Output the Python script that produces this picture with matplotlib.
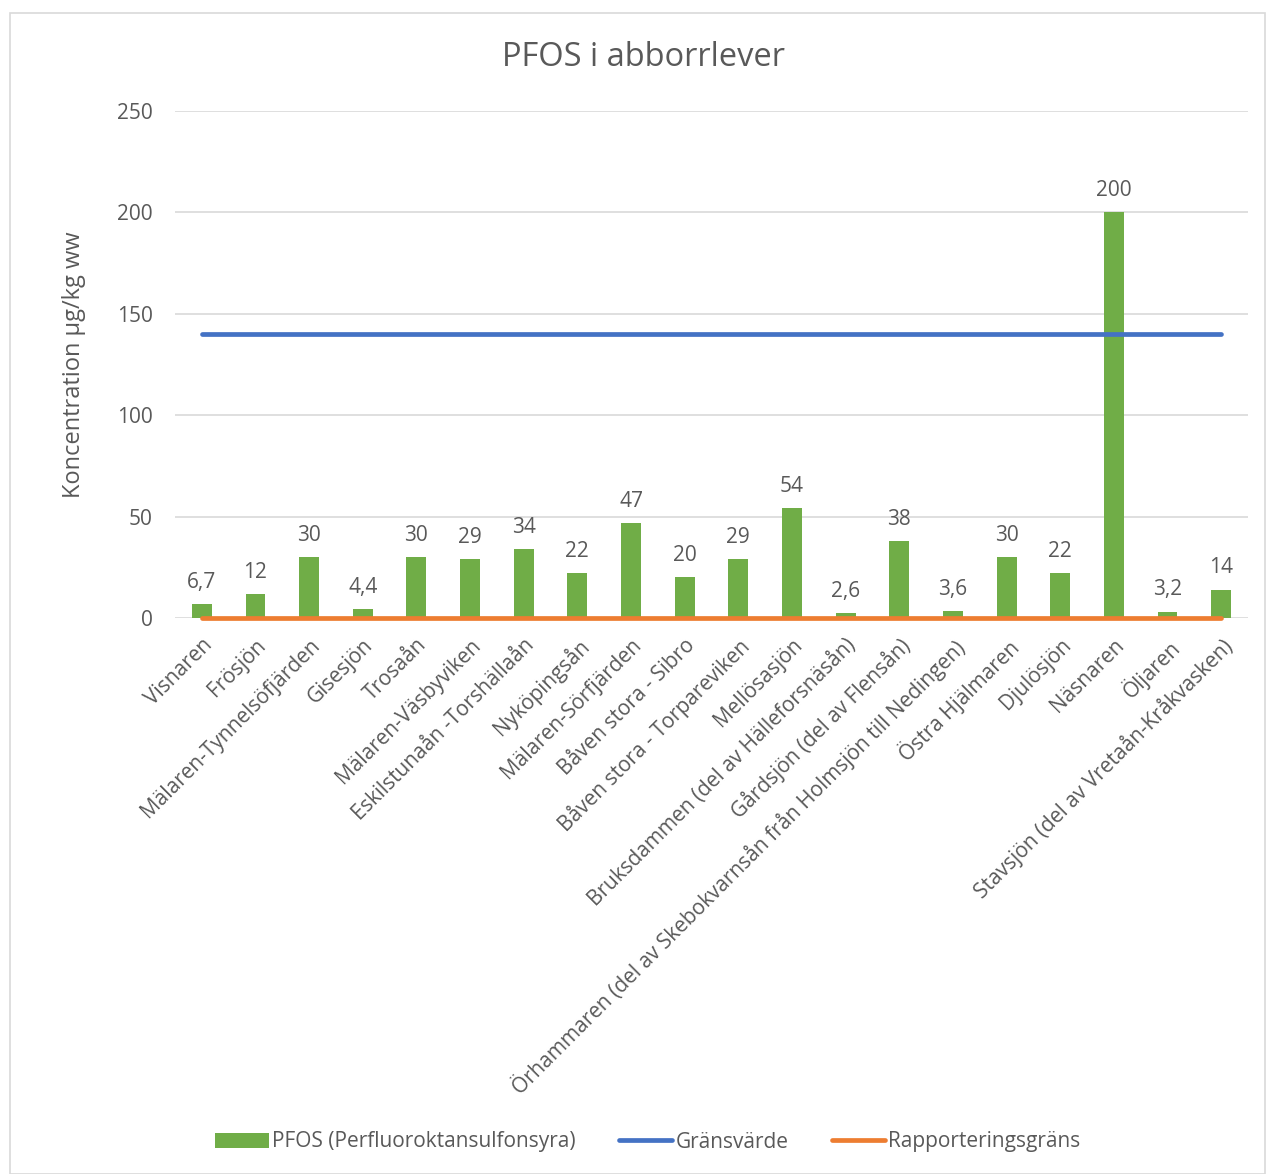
import matplotlib
matplotlib.use("Agg")
import matplotlib.pyplot as plt
from matplotlib.patches import Rectangle
from matplotlib.lines import Line2D
from matplotlib.patches import Patch

categories = ["Visnaren", "Frösjön", "Mälaren-Tynnelsöfjärden", "Gisesjön", "Trosaån",
              "Mälaren-Väsbyviken", "Eskilstunaån -Torshällaån", "Nyköpingsån",
              "Mälaren-Sörfjärden", "Båven stora - Sibro", "Båven stora - Torpareviken",
              "Mellösasjön", "Bruksdammen (del av Hälleforsnäsån)", "Gårdsjön (del av Flensån)",
              "Örhammaren (del av Skebokvarnsån från Holmsjön till Nedingen)", "Östra Hjälmaren",
              "Djulösjön", "Näsnaren", "Öljaren", "Stavsjön (del av Vretaån-Kråkvasken)"]
pfos = [6.7, 12, 30, 4.4, 30, 29, 34, 22, 47, 20, 29, 54, 2.6, 38, 3.6, 30, 22, 200, 3.2, 14]
gransvarde = [140] * len(categories)
rapporteringsgrans = [0] * len(categories)
yticks = [0, 50, 100, 150, 200, 250]

plt.rcParams['font.family'] = ['Open Sans', 'DejaVu Sans']
GREEN = "#70AD47"
BLUE = "#4472C4"
ORANGE = "#ED7D31"
TXT = "#595959"

fig = plt.figure(figsize=(12.66, 11.74), dpi=100)
fig.patches.append(Rectangle((10/1266, 0), 1 - 10/1266 - 0.001, 1 - 12/1174 - 0.001,
                             transform=fig.transFigure, fill=False,
                             edgecolor="#D9D9D9", linewidth=1.2))
ax = fig.add_axes([175/1266, 1 - 618/1174, (1248-175)/1266, (618-111)/1174])

x = list(range(len(categories)))
ax.bar(x, pfos, width=0.37, color=GREEN, zorder=2)
ax.plot(x, gransvarde, color=BLUE, linewidth=3.4, solid_capstyle='round', zorder=3, clip_on=False)
ax.plot(x, rapporteringsgrans, color=ORANGE, linewidth=3.4, solid_capstyle='round', zorder=3, clip_on=False)

for xi, v in zip(x, pfos):
    s = (f"{v:g}").replace(".", ",")
    ax.annotate(s, (xi, v), xytext=(0, 8), textcoords="offset points",
                ha="center", va="bottom", fontsize=15, color=TXT)

ax.set_xlim(-0.5, len(categories) - 0.5)
ax.set_ylim(0, 250)
ax.set_yticks(yticks)
ax.set_yticklabels([str(t) for t in yticks], fontsize=15, color=TXT)
ax.yaxis.grid(True, color="#D9D9D9", linewidth=1.2, zorder=0)
ax.set_axisbelow(True)
for sp in ax.spines.values():
    sp.set_visible(False)
ax.tick_params(axis='both', length=0)
ax.tick_params(axis='y', pad=16)
ax.set_xticks(x)
ax.set_xticklabels(categories, rotation=45, ha="right", rotation_mode="anchor",
                   fontsize=15, color=TXT)
ax.tick_params(axis='x', pad=12)

ax.set_ylabel("Koncentration µg/kg ww", fontsize=17, color=TXT, labelpad=22)
fig.text(643/1266, 1 - 58/1174, "PFOS i abborrlever", ha="center", va="center",
         fontsize=23.5, color=TXT)

handles = [Patch(facecolor=GREEN, edgecolor='none'),
           Line2D([0], [0], color=BLUE, linewidth=3.4, solid_capstyle='round'),
           Line2D([0], [0], color=ORANGE, linewidth=3.4, solid_capstyle='round')]
labels = ["PFOS (Perfluoroktansulfonsyra)", "Gränsvärde", "Rapporteringsgräns"]
fig.legend(handles, labels, loc="center", bbox_to_anchor=(648/1266, 1 - 1142/1174),
           ncol=3, frameon=False, fontsize=15, labelcolor=TXT,
           handlelength=2.55, handletextpad=0.15, columnspacing=2.1)

fig.savefig("out.png", dpi=100)
